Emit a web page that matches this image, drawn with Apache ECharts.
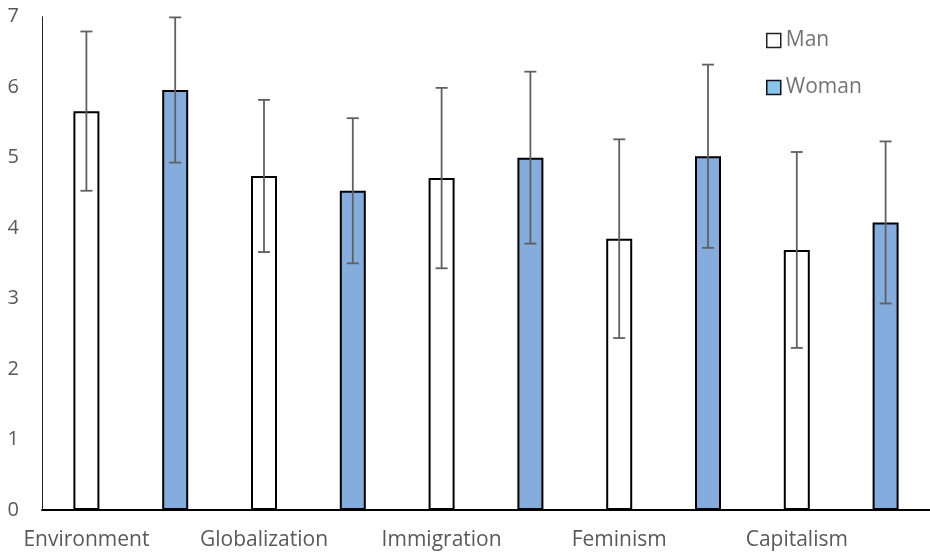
<!DOCTYPE html>
<html>
<head>
<meta charset="utf-8">
<script src="https://cdn.jsdelivr.net/npm/echarts@6/dist/echarts.min.js"></script>
<style>html,body{margin:0;padding:0;background:#fff;}#c{width:930px;height:556px;}</style>
</head>
<body>
<div id="c"></div>
<script>
const topics = ['Environment', 'Globalization', 'Immigration', 'Feminism', 'Capitalism'];
const manMeans = [5.66, 4.74, 4.71, 3.85, 3.69];
const manSD = [1.13, 1.08, 1.28, 1.41, 1.39];
const womanMeans = [5.96, 4.53, 5.00, 5.02, 4.08];
const womanSD = [1.03, 1.03, 1.22, 1.30, 1.15];
const yTicks = [0, 1, 2, 3, 4, 5, 6, 7];

const categories = [];
topics.forEach(t => { categories.push(t); categories.push(t + '|W'); });
const manData = [], womanData = [], errData = [];
topics.forEach((t, i) => {
  manData.push(manMeans[i]); manData.push('-');
  womanData.push('-'); womanData.push(womanMeans[i]);
  errData.push([2 * i, manMeans[i] - manSD[i], manMeans[i] + manSD[i]]);
  errData.push([2 * i + 1, womanMeans[i] - womanSD[i], womanMeans[i] + womanSD[i]]);
});

const chart = echarts.init(document.getElementById('c'));
const font = 'Open Sans';
chart.setOption({
  animation: false,
  grid: { left: 42, right: -5, top: 16.7, bottom: 46, containLabel: false },
  legend: {
    orient: 'vertical', left: 761, top: 25,
    itemWidth: 14, itemHeight: 14, itemGap: 26,
    textStyle: { color: '#737373', fontSize: 21, fontFamily: font },
    data: [
      { name: 'Man', icon: 'rect', itemStyle: { color: '#fff', borderColor: '#222', borderWidth: 1.5 } },
      { name: 'Woman', icon: 'rect', itemStyle: { color: '#87c5ea', borderColor: '#111', borderWidth: 1.5 } }
    ]
  },
  xAxis: {
    type: 'category', data: categories,
    axisLine: { lineStyle: { color: '#000', width: 2 } },
    axisTick: { show: false },
    axisLabel: {
      interval: 0, margin: 20, color: '#595959', fontSize: 21, fontFamily: font,
      formatter: v => v.indexOf('|W') >= 0 ? '' : v
    }
  },
  yAxis: {
    type: 'value', min: yTicks[0], max: yTicks[yTicks.length - 1], interval: 1,
    splitLine: { show: false },
    axisLine: { show: true, lineStyle: { color: '#222', width: 1 } },
    axisTick: { show: false },
    axisLabel: { margin: 23, color: '#595959', fontSize: 20, fontFamily: font }
  },
  series: [
    { name: 'Man', type: 'bar', data: manData, barWidth: 26, barGap: '-100%',
      itemStyle: { color: '#ffffff', borderColor: '#000', borderWidth: 2 } },
    { name: 'Woman', type: 'bar', data: womanData, barWidth: 26, barGap: '-100%',
      itemStyle: { color: '#84acdc', borderColor: '#000', borderWidth: 2 } },
    { name: 'err', type: 'custom', z: 5, data: errData,
      renderItem: (params, api) => {
        const x = api.value(0);
        const lo = api.coord([x, api.value(1)]);
        const hi = api.coord([x, api.value(2)]);
        const w = 6;
        const st = { stroke: '#606060', lineWidth: 1.8 };
        return { type: 'group', children: [
          { type: 'line', shape: { x1: lo[0], y1: lo[1], x2: hi[0], y2: hi[1] }, style: st },
          { type: 'line', shape: { x1: lo[0] - w, y1: lo[1], x2: lo[0] + w, y2: lo[1] }, style: st },
          { type: 'line', shape: { x1: hi[0] - w, y1: hi[1], x2: hi[0] + w, y2: hi[1] }, style: st }
        ]};
      }
    }
  ]
});
</script>
</body>
</html>
